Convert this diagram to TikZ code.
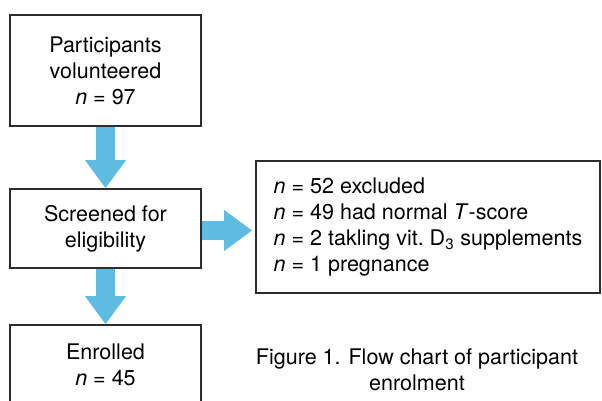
\documentclass[tikz,border=0pt]{standalone}
\usepackage{fontspec}
\setmainfont{TeX Gyre Heros}
\usetikzlibrary{arrows.meta}
\definecolor{arrowblue}{RGB}{94,188,224}
\definecolor{boxgray}{RGB}{45,45,45}
\tikzset{
  box/.style={draw=boxgray,line width=1.1pt,align=center,inner sep=0pt,
    font=\fontsize{15.3}{18.4}\selectfont\frenchspacing},
  flow/.style={draw=arrowblue,line width=0.475cm,
    -{Triangle[length=0.7cm,width=0.975cm]}}
}

\begin{document}
\begin{tikzpicture}[x=0.025cm,y=-0.025cm]
    \useasboundingbox (0,0) rectangle (602,400);
    \node[box,minimum width=4.775cm,minimum height=2.775cm] (part) at (105.5,70.5)
      {Participants\\volunteered\\\textit{n} = 97};
    \node[box,minimum width=4.775cm,minimum height=1.975cm] (screen) at (105.5,228.5)
      {Screened for\\eligibility};
    \node[box,minimum width=8.6cm,minimum height=3.3cm,align=left] (excl) at (428,227)
      {\textit{n} = 52 excluded\\
       \textit{n} = 49 had normal \textit{T}-score\\
       \textit{n} = 2 takling vit. D\textsubscript{3} supplements\\
       \textit{n} = 1 pregnance};
    \node[box,minimum width=4.775cm,minimum height=2cm] (enrol) at (105.5,365)
      {Enrolled\\\textit{n} = 45};
    \node[align=center,font=\fontsize{15.3}{18.4}\selectfont] (cap) at (417,370)
      {Figure 1. Flow chart of participant\\enrolment};
    \draw[flow] (part.south) -- (screen.north);
    \draw[flow,shorten >=0.075cm] ([yshift=-0.05cm]screen.east) -- ([yshift=-0.05cm]screen.east -| excl.west);
    \draw[flow] (screen.south) -- (enrol.north);
  \end{tikzpicture}
\end{document}
